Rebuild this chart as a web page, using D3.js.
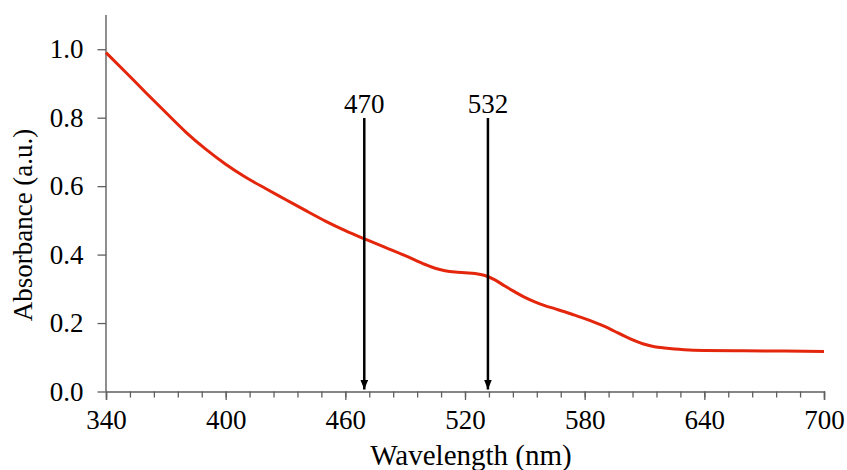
<!DOCTYPE html>
<html>
<head>
<meta charset="utf-8">
<script src="https://cdn.jsdelivr.net/npm/d3@7"></script>
<style>
 body { margin: 0; background: #fff; }
 text { font-family: "Liberation Serif", "Times New Roman", serif; }
</style>
</head>
<body>
<div class="vis1"></div>
<script>
// Spectrum
var wavelength = [340, 350, 360, 370, 380, 390, 400, 410, 420, 430, 440, 450, 460, 470,
  480, 490, 500, 505, 510, 515, 520, 525, 530, 535, 540, 545, 550, 555, 560, 565, 570, 575,
  580, 585, 590, 595, 600, 605, 610, 615, 620, 625, 630, 640, 660, 680, 700];
var absorbance = [0.99, 0.932, 0.873, 0.815, 0.758, 0.708, 0.664, 0.626, 0.593, 0.561, 0.529,
  0.498, 0.47, 0.445, 0.421, 0.397, 0.371, 0.36, 0.353, 0.349, 0.347, 0.345, 0.339, 0.326,
  0.308, 0.291, 0.275, 0.262, 0.251, 0.242, 0.233, 0.223, 0.213, 0.202, 0.19, 0.176, 0.162,
  0.149, 0.138, 0.131, 0.127, 0.124, 0.122, 0.12, 0.119, 0.118, 0.117];

// Marked peaks
var peaks = [470, 532];

// Axis ticks
var xMajor = [340, 400, 460, 520, 580, 640, 700];
var yTicks = [0, 0.2, 0.4, 0.6, 0.8, 1.0];

var W = 847, H = 470;
var margin = {top: 15, right: 23, bottom: 78.5, left: 106};

var svg = d3.select(".vis1")
  .append("svg")
  .attr("width", W)
  .attr("height", H);

var x = d3.scaleLinear().domain([340, 700]).range([margin.left, W - margin.right]);
var y = d3.scaleLinear().domain([0, 1.1]).range([H - margin.bottom, margin.top]);

var axisColor = "#5f5f5f";

// minor x ticks every 12 nm
var xMinor = d3.range(340, 701, 12);
var gxMinor = svg.append("g")
  .attr("transform", "translate(0," + y(0) + ")")
  .call(d3.axisBottom(x).tickValues(xMinor).tickSize(6).tickFormat(""));
gxMinor.select(".domain").remove();
gxMinor.selectAll("line").attr("stroke", axisColor).attr("stroke-width", 1.3);

var gx = svg.append("g")
  .attr("transform", "translate(0," + y(0) + ")")
  .call(d3.axisBottom(x).tickValues(xMajor).tickSize(8.5).tickPadding(10).tickFormat(d3.format("d")));
gx.select(".domain").attr("stroke", axisColor).attr("stroke-width", 1.4);
gx.selectAll("line").attr("stroke", axisColor).attr("stroke-width", 1.3);
gx.selectAll("text").attr("font-size", "27px").attr("fill", "#000")
  .attr("font-family", "Liberation Serif");

var gy = svg.append("g")
  .attr("transform", "translate(" + margin.left + ",0)")
  .call(d3.axisLeft(y).tickValues(yTicks).tickSize(8.5).tickPadding(14).tickFormat(d3.format(".1f")));
gy.select(".domain").attr("stroke", axisColor).attr("stroke-width", 1.4)
  .attr("d", "M0," + y(0) + "V" + margin.top);
gy.selectAll("line").attr("stroke", axisColor).attr("stroke-width", 1.3);
gy.selectAll("text").attr("font-size", "27px").attr("fill", "#000")
  .attr("font-family", "Liberation Serif");

// axis titles (sits low, like the original)
svg.append("text")
  .attr("x", (x(340) + x(700)) / 2 + 6)
  .attr("y", 465)
  .attr("text-anchor", "middle")
  .attr("font-size", "29px")
  .text("Wavelength (nm)");

svg.append("text")
  .attr("transform", "translate(32," + 225 + ") rotate(-90)")
  .attr("text-anchor", "middle")
  .attr("font-size", "27px")
  .text("Absorbance (a.u.)");

// the spectrum
var line = d3.line()
  .x(function(d, i) { return x(wavelength[i]); })
  .y(function(d) { return y(d); })
  .curve(d3.curveMonotoneX);

svg.append("path")
  .datum(absorbance)
  .attr("d", line)
  .attr("fill", "none")
  .attr("stroke", "#e3260c")
  .attr("stroke-width", 3);

// arrows
svg.append("defs").append("marker")
  .attr("id", "head")
  .attr("viewBox", "0 0 8 10")
  .attr("refX", 4).attr("refY", 10)
  .attr("markerWidth", 8).attr("markerHeight", 10)
  .attr("markerUnits", "userSpaceOnUse")
  .attr("orient", "0")
  .append("path")
  .attr("d", "M0,0 L8,0 L4,10 Z")
  .attr("fill", "#000");

var arrows = svg.selectAll(".peak")
  .data(peaks)
  .enter()
  .append("g");

arrows.append("line")
  .attr("x1", function(d) { return x(d) - 1; })
  .attr("x2", function(d) { return x(d) - 1; })
  .attr("y1", 118)
  .attr("y2", y(0) - 2)
  .attr("stroke", "#000")
  .attr("stroke-width", 2.5)
  .attr("marker-end", "url(#head)");

arrows.append("text")
  .attr("x", function(d) { return x(d) - 1; })
  .attr("y", 113)
  .attr("text-anchor", "middle")
  .attr("font-size", "27px")
  .text(function(d) { return d; });
</script>
</body>
</html>
